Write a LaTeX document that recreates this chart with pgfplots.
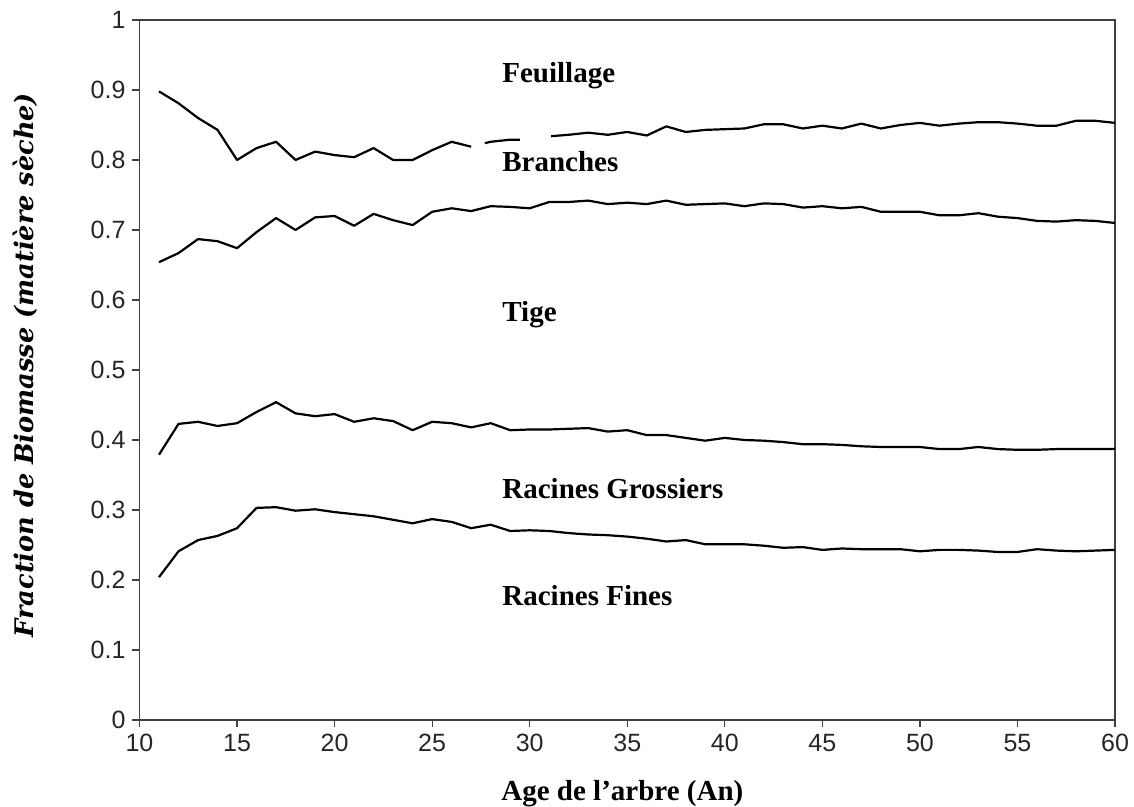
\documentclass[border=0pt]{standalone}
\usepackage{fontspec}
\setmainfont{Liberation Sans}
\newfontfamily\labfont{Liberation Serif}
\newfontfamily\ylabfont{DejaVu Serif}
\usepackage{pgfplots}
\pgfplotsset{compat=1.18}
\begin{document}
\begin{tikzpicture}
\useasboundingbox (0,0) rectangle (567pt,403.5pt);
\begin{axis}[
  at={(69.75pt,43.5pt)}, anchor=south west,
  scale only axis, width=487.75pt, height=350pt,
  xmin=10, xmax=60, ymin=0, ymax=1,
  xtick={10,15,20,25,30,35,40,45,50,55,60},
  xticklabels={10,15,20,25,30,35,40,45,50,55,60},
  ytick={0,0.1,0.2,0.3,0.4,0.5,0.6,0.7,0.8,0.9,1},
  yticklabels={0,0.1,0.2,0.3,0.4,0.5,0.6,0.7,0.8,0.9,1},
  xtick pos=bottom, ytick pos=left,
  tick align=outside, major tick length=3.5pt,
  axis line style={black!75, line width=0.6pt},
  every tick/.style={black!75, line width=0.6pt},
  tick label style={font=\fontsize{12.5}{14}\selectfont, text=black!85},
  unbounded coords=jump,
  xlabel={Age de l’arbre (An)},
  xlabel style={font=\labfont\bfseries\fontsize{14.5}{16}\selectfont, at={(axis description cs:0.495,-0.1143)}, anchor=base},
  ylabel={Fraction de Biomasse (matière sèche)},
  ylabel style={font=\ylabfont\bfseries\itshape\fontsize{12.8}{15}\selectfont, at={(axis description cs:-0.109,0.507)}, anchor=base},
]
% Feuillage / Branches boundary
\addplot[black, line width=1.1pt, line join=round] coordinates {
(11,0.898) (12,0.881) (13,0.860) (14,0.843) (15,0.800) (16,0.817) (17,0.826) (18,0.800) (19,0.812) (20,0.807)
(21,0.804) (22,0.817) (23,0.800) (24,0.800) (25,0.814) (26,0.826) (27,0.819) (27.3,nan) (27.7,0.824) (28,0.826)
(29,0.829) (29.5,0.829) (30.2,nan) (31.1,0.834) (32,0.836) (33,0.839) (34,0.836) (35,0.840) (36,0.835) (37,0.848)
(38,0.840) (39,0.843) (40,0.844) (41,0.845) (42,0.851) (43,0.851) (44,0.845) (45,0.849) (46,0.845) (47,0.852)
(48,0.845) (49,0.850) (50,0.853) (51,0.849) (52,0.852) (53,0.854) (54,0.854) (55,0.852) (56,0.849) (57,0.849)
(58,0.856) (59,0.856) (60,0.853)
};
% Branches / Tige boundary
\addplot[black, line width=1.1pt, line join=round] coordinates {
(11,0.654) (12,0.667) (13,0.687) (14,0.684) (15,0.674) (16,0.697) (17,0.717) (18,0.700) (19,0.718) (20,0.720)
(21,0.706) (22,0.723) (23,0.714) (24,0.707) (25,0.726) (26,0.731) (27,0.727) (28,0.734) (29,0.733) (30,0.731)
(31,0.740) (32,0.740) (33,0.742) (34,0.737) (35,0.739) (36,0.737) (37,0.742) (38,0.736) (39,0.737) (40,0.738)
(41,0.734) (42,0.738) (43,0.737) (44,0.732) (45,0.734) (46,0.731) (47,0.733) (48,0.726) (49,0.726) (50,0.726)
(51,0.721) (52,0.721) (53,0.724) (54,0.719) (55,0.717) (56,0.713) (57,0.712) (58,0.714) (59,0.713) (60,0.710)
};
% Tige / Racines Grossiers boundary
\addplot[black, line width=1.1pt, line join=round] coordinates {
(11,0.379) (12,0.423) (13,0.426) (14,0.420) (15,0.424) (16,0.440) (17,0.454) (18,0.438) (19,0.434) (20,0.437)
(21,0.426) (22,0.431) (23,0.427) (24,0.414) (25,0.426) (26,0.424) (27,0.418) (28,0.424) (29,0.414) (30,0.415)
(31,0.415) (32,0.416) (33,0.417) (34,0.412) (35,0.414) (36,0.407) (37,0.407) (38,0.403) (39,0.399) (40,0.403)
(41,0.400) (42,0.399) (43,0.397) (44,0.394) (45,0.394) (46,0.393) (47,0.391) (48,0.390) (49,0.390) (50,0.390)
(51,0.387) (52,0.387) (53,0.390) (54,0.387) (55,0.386) (56,0.386) (57,0.387) (58,0.387) (59,0.387) (60,0.387)
};
% Racines Grossiers / Racines Fines boundary
\addplot[black, line width=1.1pt, line join=round] coordinates {
(11,0.204) (12,0.241) (13,0.257) (14,0.263) (15,0.274) (16,0.303) (17,0.304) (18,0.299) (19,0.301) (20,0.297)
(21,0.294) (22,0.291) (23,0.286) (24,0.281) (25,0.287) (26,0.283) (27,0.274) (28,0.279) (29,0.270) (30,0.271)
(31,0.270) (32,0.267) (33,0.265) (34,0.264) (35,0.262) (36,0.259) (37,0.255) (38,0.257) (39,0.251) (40,0.251)
(41,0.251) (42,0.249) (43,0.246) (44,0.247) (45,0.243) (46,0.245) (47,0.244) (48,0.244) (49,0.244) (50,0.241)
(51,0.243) (52,0.243) (53,0.242) (54,0.240) (55,0.240) (56,0.244) (57,0.242) (58,0.241) (59,0.242) (60,0.243)
};
\tikzset{lab/.style={anchor=base west, inner sep=0pt, font=\labfont\bfseries\fontsize{14.5}{16}\selectfont}}
\node[lab] at (axis cs:28.58,0.911) {Feuillage};
\node[lab] at (axis cs:28.58,0.783) {Branches};
\node[lab] at (axis cs:28.58,0.569) {Tige};
\node[lab] at (axis cs:28.58,0.317) {Racines Grossiers};
\node[lab] at (axis cs:28.58,0.164) {Racines Fines};
\end{axis}
\end{tikzpicture}
\end{document}
